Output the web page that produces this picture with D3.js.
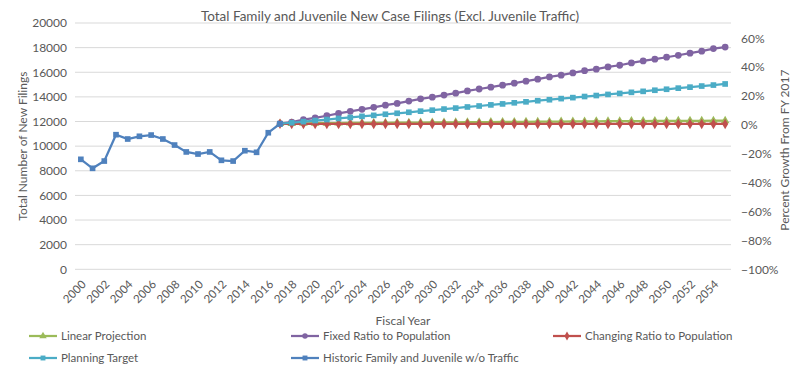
<!DOCTYPE html>
<html>
<head>
<meta charset="utf-8">
<script src="https://cdn.jsdelivr.net/npm/d3@7/dist/d3.min.js"></script>
<style>
  body { margin: 0; background: #fff; }
  svg text { font-family: Lato, "Open Sans", sans-serif; fill: #595959; }
</style>
</head>
<body>
<svg width="796" height="367"></svg>
<script>
// historic filings, FY2000 - FY2017
var historicYears = d3.range(2000, 2018);
var historic = [8930, 8200, 8790, 10930, 10580, 10800, 10900, 10580, 10090, 9530,
                9360, 9530, 8850, 8790, 9630, 9500, 11090, 11820];

// projections, FY2017 - FY2055
var projYears = d3.range(2017, 2056);
var linearProj = [11830, 11840, 11850, 11860, 11860, 11870, 11880, 11890, 11890, 11900,
                  11910, 11910, 11920, 11930, 11930, 11940, 11950, 11950, 11960, 11970,
                  11970, 11980, 11990, 11990, 12000, 12010, 12010, 12020, 12030, 12030,
                  12040, 12040, 12050, 12050, 12060, 12060, 12060, 12070, 12070];
var fixedRatio = [11820, 11950, 12150, 12290, 12470, 12660, 12830, 12990, 13150, 13330,
                  13470, 13660, 13840, 13980, 14150, 14300, 14480, 14640, 14790, 14950,
                  15110, 15280, 15440, 15620, 15760, 15950, 16130, 16250, 16430, 16570,
                  16760, 16920, 17060, 17220, 17380, 17550, 17710, 17920, 18050];
var changingRatio = [11810, 11800, 11800, 11800, 11800, 11800, 11800, 11800, 11800, 11800,
                     11800, 11800, 11800, 11800, 11800, 11800, 11800, 11800, 11800, 11800,
                     11800, 11800, 11800, 11800, 11800, 11800, 11800, 11800, 11800, 11800,
                     11800, 11800, 11800, 11800, 11800, 11800, 11800, 11800, 11800];
var planningTarget = [11820, 11900, 11990, 12080, 12160, 12250, 12330, 12420, 12500, 12590,
                      12670, 12750, 12840, 12920, 13010, 13090, 13180, 13260, 13350, 13430,
                      13520, 13600, 13690, 13770, 13860, 13940, 14030, 14110, 14200, 14280,
                      14370, 14450, 14540, 14620, 14710, 14790, 14880, 14960, 15050];

var leftTicks = d3.range(0, 20001, 2000);
var rightTicks = [-1, -0.8, -0.6, -0.4, -0.2, 0, 0.2, 0.4, 0.6];
var fy2017Base = 11730;

var series = [
  {name: "Linear Projection", years: projYears, values: linearProj, color: "#9bbb59", marker: d3.symbolTriangle},
  {name: "Fixed Ratio to Population", years: projYears, values: fixedRatio, color: "#8064a2", marker: d3.symbolCircle},
  {name: "Changing Ratio to Population", years: projYears, values: changingRatio, color: "#c0504d", marker: d3.symbolDiamond},
  {name: "Planning Target", years: projYears, values: planningTarget, color: "#4bacc6", marker: d3.symbolSquare},
  {name: "Historic Family and Juvenile w/o Traffic", years: historicYears, values: historic, color: "#4f81bd", marker: d3.symbolSquare}
];

var svg = d3.select("svg"),
    plotL = 75, plotR = 731, plotT = 23, plotB = 269.3;

var allYears = d3.range(2000, 2056);
var x = d3.scaleBand().domain(allYears).range([plotL, plotR]);
var xc = function(yr) { return x(yr) + x.bandwidth() / 2; };
var y = d3.scaleLinear().domain([0, 20000]).range([plotB, plotT]);
var y2 = d3.scaleLinear().domain([-1, 20000 / fy2017Base - 1]).range([plotB, plotT]);

// gridlines
svg.append("g").selectAll("line")
  .data(leftTicks)
  .enter().append("line")
    .attr("x1", plotL).attr("x2", plotR)
    .attr("y1", function(d) { return y(d); })
    .attr("y2", function(d) { return y(d); })
    .attr("stroke", "#d9d9d9")
    .attr("stroke-width", 1);

// left axis
var yAxis = svg.append("g")
    .attr("transform", "translate(" + (plotL - 8) + ",0)")
    .call(d3.axisLeft(y).tickValues(leftTicks).tickSize(0).tickPadding(0).tickFormat(d3.format("d")));
yAxis.select(".domain").remove();
yAxis.attr("font-family", null);
yAxis.selectAll("text").style("font-size", "12px").attr("fill", "#595959");

// right axis
var y2Axis = svg.append("g")
    .attr("transform", "translate(" + (plotR + 10) + ",0)")
    .call(d3.axisRight(y2).tickValues(rightTicks).tickSize(0).tickPadding(0).tickFormat(d3.format(".0%")));
y2Axis.select(".domain").remove();
y2Axis.attr("font-family", null);
y2Axis.selectAll("text").style("font-size", "12px").attr("fill", "#595959");

// x tick labels
svg.append("g").selectAll("text")
  .data(allYears.filter(function(d) { return d % 2 == 0; }))
  .enter().append("text")
    .attr("transform", function(d) { return "translate(" + (xc(d) + 3) + "," + (plotB + 13) + ") rotate(-45)"; })
    .attr("text-anchor", "end")
    .attr("dy", "0.35em")
    .style("font-size", "11.5px")
    .text(function(d) { return d; });

// titles
svg.append("text")
    .attr("x", 390).attr("y", 21)
    .attr("text-anchor", "middle")
    .style("font-size", "13.5px")
    .text("Total Family and Juvenile New Case Filings (Excl. Juvenile Traffic)");

svg.append("text")
    .attr("x", 403).attr("y", 325)
    .attr("text-anchor", "middle")
    .style("font-size", "12px")
    .text("Fiscal Year");

svg.append("text")
    .attr("transform", "translate(27," + ((plotT + plotB) / 2) + ") rotate(-90)")
    .attr("text-anchor", "middle")
    .style("font-size", "12px")
    .text("Total Number of New Filings");

svg.append("text")
    .attr("transform", "translate(789," + ((plotT + plotB) / 2 + 4) + ") rotate(-90)")
    .attr("text-anchor", "middle")
    .style("font-size", "12px")
    .text("Percent Growth From FY 2017");

// series
var line = d3.line()
    .x(function(d) { return xc(d[0]); })
    .y(function(d) { return y(d[1]); });

series.forEach(function(s) {
  var pts = d3.zip(s.years, s.values);
  var g = svg.append("g");
  g.append("path")
    .datum(pts)
    .attr("d", line)
    .attr("fill", "none")
    .attr("stroke", s.color)
    .attr("stroke-width", 2.25);
  g.selectAll("path.m")
    .data(pts)
    .enter().append("path")
      .attr("class", "m")
      .attr("transform", function(d) { return "translate(" + xc(d[0]) + "," + y(d[1]) + ")"; })
      .attr("d", d3.symbol().type(s.marker).size(s.marker == d3.symbolCircle ? 36 : 32))
      .attr("fill", s.color);
});

// legend
var legendPos = [[29, 336], [291, 336], [553, 336], [29, 358], [291, 358]];
var legend = svg.append("g").selectAll("g")
  .data(series)
  .enter().append("g")
    .attr("transform", function(d, i) { return "translate(" + legendPos[i][0] + "," + legendPos[i][1] + ")"; });

legend.append("line")
    .attr("x1", 0).attr("x2", 28)
    .attr("stroke", function(d) { return d.color; })
    .attr("stroke-width", 2.25);
legend.append("path")
    .attr("transform", "translate(14,0)")
    .attr("d", function(d) { return d3.symbol().type(d.marker).size(24)(); })
    .attr("fill", function(d) { return d.color; });
legend.append("text")
    .attr("x", 32).attr("dy", "0.35em")
    .style("font-size", "11.5px")
    .text(function(d) { return d.name; });
</script>
</body>
</html>
